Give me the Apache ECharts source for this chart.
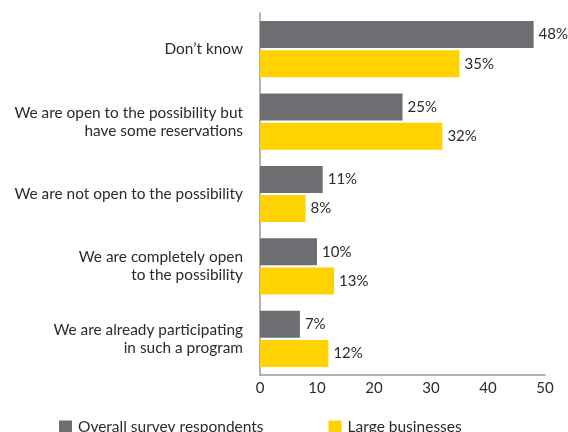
<!DOCTYPE html>
<html>
<head>
<meta charset="utf-8">
<script src="https://cdn.jsdelivr.net/npm/echarts@6/dist/echarts.min.js"></script>
<style>
  html, body { margin: 0; padding: 0; background: #fff; }
  #chart { width: 568px; height: 432px; }
</style>
</head>
<body>
<div id="chart"></div>
<script>
// Survey answers, listed top to bottom
const categories = [
  "Don\u2019t know",
  "We are open to the possibility but\nhave some reservations",
  "We are not open to the possibility",
  "We are completely open\nto the possibility",
  "We are already participating\nin such a program"
];
const overallRespondents = [48, 25, 11, 10, 7];
const largeBusinesses = [35, 32, 8, 13, 12];
const seriesNames = ["Overall survey respondents", "Large businesses"];
const xTicks = [0, 10, 20, 30, 40, 50];

const FONT = "Lato";
const TEXT = "#2b2b2b";

const chart = echarts.init(document.getElementById("chart"), null, { renderer: "canvas" });

const valueLabel = {
  show: true,
  position: "right",
  distance: 5,
  formatter: p => p.value + "%",
  fontFamily: FONT,
  fontSize: 15,
  color: TEXT
};

chart.setOption({
  animation: false,
  grid: { left: 260, right: 23, top: 13, bottom: 57, containLabel: false },
  legend: {
    left: 59,
    top: 419,
    padding: 0,
    itemWidth: 13,
    itemHeight: 13,
    itemGap: 65,
    icon: "rect",
    textStyle: { fontFamily: FONT, fontSize: 15.5, color: TEXT, padding: [0, 0, 0, 1] },
    data: seriesNames
  },
  xAxis: {
    type: "value",
    min: xTicks[0],
    max: xTicks[xTicks.length - 1],
    interval: 10,
    axisLine: { show: true, lineStyle: { color: "#9a9a9a", width: 1.5 } },
    axisTick: { show: false },
    splitLine: { show: false },
    axisLabel: { fontFamily: FONT, fontSize: 15, color: TEXT, margin: 6 }
  },
  yAxis: {
    type: "category",
    inverse: true,
    data: categories,
    axisLine: { show: true, lineStyle: { color: "#9a9a9a", width: 1.5 } },
    axisTick: { show: false },
    axisLabel: {
      fontFamily: FONT,
      fontSize: 15.4,
      color: TEXT,
      margin: 17,
      lineHeight: 18,
      align: "right"
    }
  },
  series: [
    {
      name: seriesNames[0],
      type: "bar",
      data: overallRespondents,
      barWidth: 27,
      barGap: "8%",
      itemStyle: { color: "#6d6e71" },
      label: valueLabel
    },
    {
      name: seriesNames[1],
      type: "bar",
      data: largeBusinesses,
      barWidth: 27,
      barGap: "8%",
      itemStyle: { color: "#ffd200" },
      label: valueLabel
    }
  ]
});
</script>
</body>
</html>
